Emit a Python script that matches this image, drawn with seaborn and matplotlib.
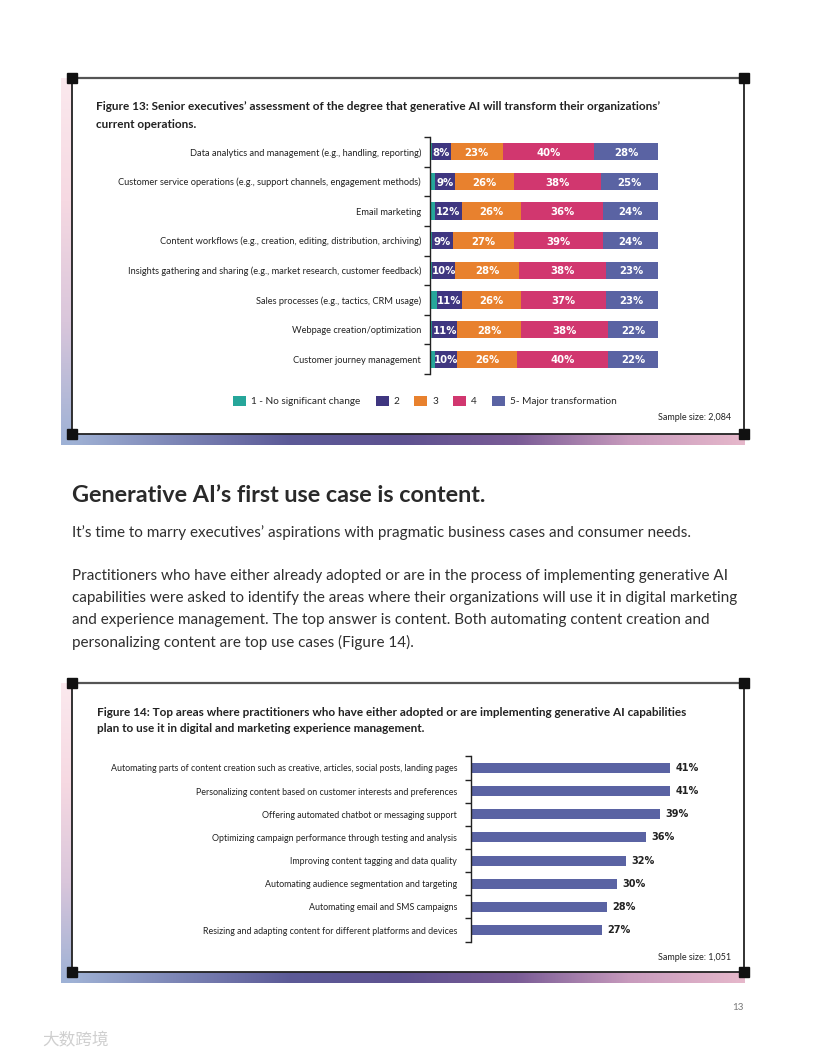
import matplotlib
matplotlib.use('Agg')
import matplotlib.pyplot as plt
import seaborn as sns
import pandas as pd
import numpy as np
from matplotlib.colors import LinearSegmentedColormap
from matplotlib.patches import Patch, Rectangle

W, H = 816, 1056

# ---- Figure 13 data ----
areas13 = [
    'Data analytics and management (e.g., handling, reporting)',
    'Customer service operations (e.g., support channels, engagement methods)',
    'Email marketing',
    'Content workflows (e.g., creation, editing, distribution, archiving)',
    'Insights gathering and sharing (e.g., market research, customer feedback)',
    'Sales processes (e.g., tactics, CRM usage)',
    'Webpage creation/optimization',
    'Customer journey management',
]
lvl1 = [1, 2, 2, 1, 1, 3, 1, 2]
lvl2 = [8, 9, 12, 9, 10, 11, 11, 10]
lvl3 = [23, 26, 26, 27, 28, 26, 28, 26]
lvl4 = [40, 38, 36, 39, 38, 37, 38, 40]
lvl5 = [28, 25, 24, 24, 23, 23, 22, 22]
level_names = ['1 - No significant change', '2', '3', '4', '5- Major transformation']
level_colors = ['#26A69A', '#3F3680', '#E8812E', '#D1376F', '#5A63A3']

# ---- Figure 14 data ----
uses14 = [
    'Automating parts of content creation such as creative, articles, social posts, landing pages',
    'Personalizing content based on customer interests and preferences',
    'Offering automated chatbot or messaging support',
    'Optimizing campaign performance through testing and analysis',
    'Improving content tagging and data quality',
    'Automating audience segmentation and targeting',
    'Automating email and SMS campaigns',
    'Resizing and adapting content for different platforms and devices',
]
share14 = [41, 41, 39, 36, 32, 30, 28, 27]

sns.set_theme(style='white')
plt.rcParams['font.family'] = ['Lato', 'Noto Sans CJK SC', 'DejaVu Sans']

fig = plt.figure(figsize=(W / 100, H / 100), dpi=100)


def box(x0, y0, x1, y1):
    return [x0 / W, 1 - y1 / H, (x1 - x0) / W, (y1 - y0) / H]


# page overlay in pixel coordinates
bg = fig.add_axes([0, 0, 1, 1], zorder=0)
bg.set_xlim(0, W)
bg.set_ylim(H, 0)
bg.axis('off')

cm_h = LinearSegmentedColormap.from_list('h', ['#a3b6d8', '#7d86b6', '#5c5a97', '#5e5290',
                                               '#7a5c96', '#c89bbd', '#e6b8cb'])
cm_v = LinearSegmentedColormap.from_list('v', ['#fbe9ee', '#f6d9e2', '#d9c6db', '#9db1d5'])
grad = np.linspace(0, 1, 256)


def frame(top, bottom):
    # soft gradient shadow to lower-left
    bg.imshow(grad[None, :], cmap=cm_h, aspect='auto', extent=(61, 745, bottom + 11, bottom), zorder=1)
    bg.imshow(grad[:, None], cmap=cm_v, aspect='auto', extent=(61, 72, bottom + 11, top), zorder=1)
    kw = dict(color='#222222', lw=1.3, zorder=3)
    bg.plot([72, 744], [top, top], color='#555555', lw=1.6, zorder=3)
    bg.plot([72, 744], [bottom, bottom], **kw)
    bg.plot([72, 72], [top, bottom], **kw)
    bg.plot([744, 744], [top, bottom], **kw)
    for cx, cy in [(72, top), (744, top), (72, bottom), (744, bottom)]:
        bg.add_patch(Rectangle((cx - 5, cy - 5), 10, 10, color='#111111', zorder=4))


frame(78, 434)
frame(683, 972)

dark = '#222222'
bg.text(96, 107, "Figure 13: Senior executives\u2019 assessment of the degree that generative AI will transform their organizations\u2019",
        fontsize=8.5, fontweight='bold', color=dark, va='center')
bg.text(96, 124, 'current operations.', fontsize=8.5, fontweight='bold', color=dark, va='center')
bg.text(731, 418, 'Sample size: 2,084', fontsize=6.5, color=dark, ha='right', va='center')

bg.text(72, 496, 'Generative AI\u2019s first use case is content.', fontsize=16.8, fontweight='bold',
        color='#2a2a2a', va='center')
body = [
    (533, 'It\u2019s time to marry executives\u2019 aspirations with pragmatic business cases and consumer needs.'),
    (576, 'Practitioners who have either already adopted or are in the process of implementing generative AI'),
    (598, 'capabilities were asked to identify the areas where their organizations will use it in digital marketing'),
    (620, 'and experience management. The top answer is content. Both automating content creation and'),
    (642, 'personalizing content are top use cases (Figure 14).'),
]
for y, line in body:
    bg.text(72, y, line, fontsize=11, color='#2f2f2f', va='center')

bg.text(97, 713, 'Figure 14: Top areas where practitioners who have either adopted or are implementing generative AI capabilities',
        fontsize=8.5, fontweight='bold', color=dark, va='center')
bg.text(97, 729, 'plan to use it in digital and marketing experience management.',
        fontsize=8.5, fontweight='bold', color=dark, va='center')
bg.text(731, 957, 'Sample size: 1,051', fontsize=6.5, color=dark, ha='right', va='center')

bg.text(738, 1007, '13', fontsize=7, color='#777777', ha='center', va='center')
bg.text(42, 1041, '大数跨境', fontsize=12, color='#cfcfcf', va='center',
        family=['Noto Sans CJK SC', 'DejaVu Sans'])

# ---- Figure 13: stacked horizontal bars ----
ax13 = fig.add_axes(box(430, 137, 658, 374), zorder=2)
ax13.patch.set_alpha(0)
levels = np.array([lvl1, lvl2, lvl3, lvl4, lvl5])
cum = levels.cumsum(axis=0)
for k in range(4, -1, -1):
    sns.barplot(x=cum[k], y=areas13, color=level_colors[k], width=0.58, saturation=1,
                orient='h', ax=ax13, linewidth=0)
for i in range(len(areas13)):
    for k in range(1, 5):
        start = cum[k - 1][i]
        v = levels[k][i]
        ax13.text(start + v / 2, i + 0.04, f'{v}%', color='white', fontsize=7.3, fontweight='bold',
                  ha='center', va='center', family='DejaVu Sans')
ax13.set_xlim(0, 100)
ax13.set_ylim(len(areas13) - 0.5, -0.5)
ax13.set_xticks([])
ax13.set_xlabel('')
ax13.set_ylabel('')
ax13.set_yticks(np.arange(-0.5, len(areas13), 1), minor=True)
ax13.tick_params(axis='y', which='major', length=0, pad=6.5, labelsize=6.7, labelcolor=dark)
ax13.tick_params(axis='y', which='minor', left=True, length=4, width=1, color=dark)
for s in ['top', 'right', 'bottom']:
    ax13.spines[s].set_visible(False)
ax13.spines['left'].set_color(dark)
ax13.spines['left'].set_linewidth(1)

handles = [Patch(facecolor=c, edgecolor='none') for c in level_colors]
fig.legend(handles, level_names, loc='center', bbox_to_anchor=(425 / W, 1 - 401 / H), ncol=5,
           frameon=False, fontsize=7.2, handlelength=1.3, handleheight=1.3, handletextpad=0.5,
           columnspacing=1.5)

# ---- Figure 14: horizontal bars ----
ax14 = fig.add_axes(box(471, 756.4, 670, 941.6), zorder=2)
ax14.patch.set_alpha(0)
sns.barplot(x=share14, y=uses14, color='#5A63A3', width=0.43, saturation=1, orient='h',
            ax=ax14, linewidth=0)
ax14.bar_label(ax14.containers[0], labels=[f'{v}%' for v in share14], padding=4, fontsize=7,
               fontweight='bold', color=dark, family='DejaVu Sans')
ax14.set_xlim(0, 41)
ax14.set_ylim(len(uses14) - 0.5, -0.5)
ax14.set_xticks([])
ax14.set_xlabel('')
ax14.set_ylabel('')
ax14.set_yticks(np.arange(-0.5, len(uses14), 1), minor=True)
ax14.tick_params(axis='y', which='major', length=0, pad=10, labelsize=6.4, labelcolor=dark)
ax14.tick_params(axis='y', which='minor', left=True, length=4, width=1, color=dark)
for s in ['top', 'right', 'bottom']:
    ax14.spines[s].set_visible(False)
ax14.spines['left'].set_color(dark)
ax14.spines['left'].set_linewidth(1)

fig.savefig('out.png', dpi=100)
